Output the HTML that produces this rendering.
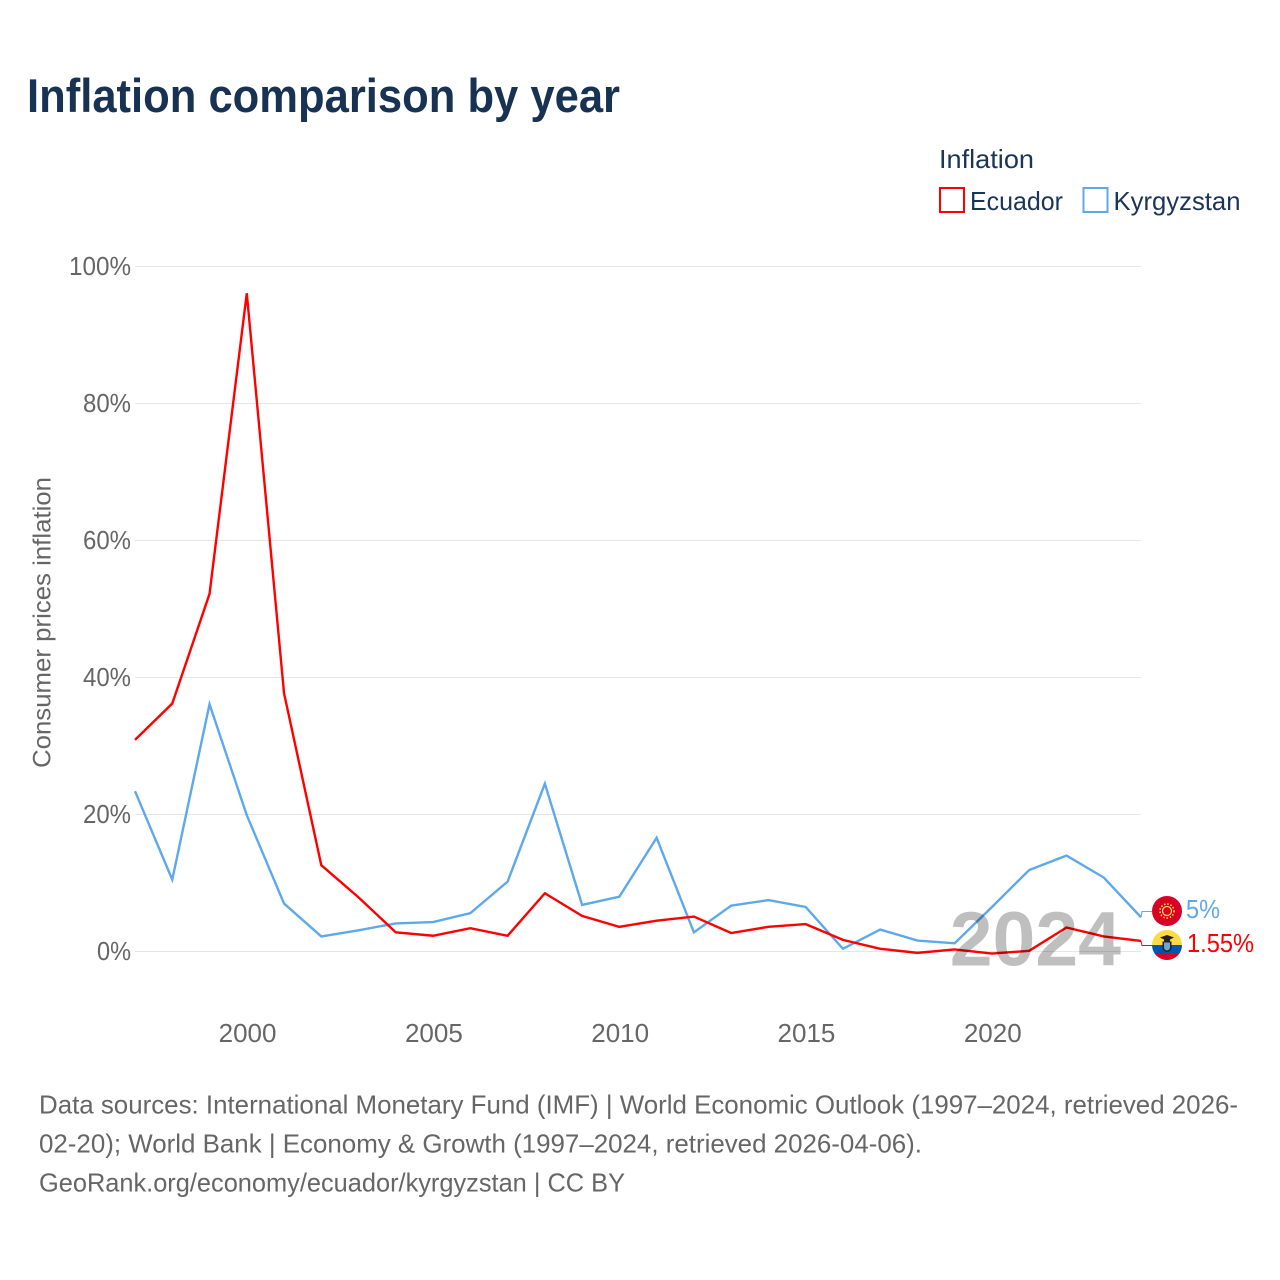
<!DOCTYPE html>
<html lang="en">
<head>
<meta charset="utf-8">
<title>Inflation comparison by year</title>
<style>
html,body{margin:0;padding:0;background:#fff;width:1280px;height:1280px;overflow:hidden}
svg{display:block;font-family:"Liberation Sans",sans-serif}
</style>
</head>
<body>
<svg id="chart" width="1280" height="1280" viewBox="0 0 1280 1280" xmlns="http://www.w3.org/2000/svg">
  <text x="27" y="112" font-size="47" font-weight="700" fill="#183253" textLength="593" lengthAdjust="spacingAndGlyphs">Inflation comparison by year</text>

  <g>
    <text x="939" y="168" font-size="26" fill="#1a3557" textLength="95" lengthAdjust="spacingAndGlyphs">Inflation</text>
    <g>
      <rect x="940" y="188" width="24" height="24" fill="#fff" stroke="#ff0000" stroke-width="2"/>
      <text x="970" y="210" font-size="26" fill="#1a3557" textLength="93" lengthAdjust="spacingAndGlyphs">Ecuador</text>
    </g>
    <g>
      <rect x="1083.500" y="188" width="24" height="24" fill="#fff" stroke="#5ea8ec" stroke-width="2"/>
      <text x="1113.500" y="210" font-size="26" fill="#1a3557" textLength="127" lengthAdjust="spacingAndGlyphs">Kyrgyzstan</text>
    </g>
  </g>

  <g id="grid"></g>
  <g id="yticks"></g>
  <g id="xticks"></g>

  <text transform="translate(50.500,768) rotate(-90)" font-size="25" fill="#666" textLength="291" lengthAdjust="spacingAndGlyphs">Consumer prices inflation</text>

  <g id="series"></g>

  <text x="1121" y="965.500" text-anchor="end" font-size="77" font-weight="700" fill="#000" fill-opacity="0.25">2024</text>

  <g id="flag-kyrgyzstan">
    <circle cx="1167" cy="911" r="15" fill="#d80027"/>
    <circle cx="1167" cy="911" r="4.500" fill="none" stroke="#ffda44" stroke-width="1.300"/>
    <circle cx="1167" cy="911" r="7" fill="none" stroke="#ffda44" stroke-width="1.600" stroke-dasharray="1.500 1.800"/>
  </g>
  <g id="flag-ecuador">
    <clipPath id="ec-clip"><circle cx="1167" cy="945" r="15"/></clipPath>
    <g clip-path="url(#ec-clip)">
      <rect x="1152" y="930" width="30" height="15" fill="#ffda44"/>
      <rect x="1152" y="945" width="30" height="8" fill="#0052b4"/>
      <rect x="1152" y="953" width="30" height="7" fill="#d80027"/>
    </g>
    <path d="M1160 937.500 L1167 935 L1174 937.500 L1170 939.500 L1170 942 L1164 942 L1164 939.500 Z" fill="#222"/>
    <path d="M1162.500 941.500 H1171.500 V947 Q1171.500 951 1167 952 Q1162.500 951 1162.500 947 Z" fill="#222"/>
    <path d="M1164 942.500 H1170 V947 Q1170 950 1167 950.500 Q1164 950 1164 947 Z" fill="#6da5e0"/>
  </g>

  <g id="end-labels">
    <text x="1186" y="918" font-size="26" fill="#5ea8ec" textLength="34" lengthAdjust="spacingAndGlyphs">5%</text>
    <text x="1187" y="952" font-size="26" fill="#ff0000" textLength="67" lengthAdjust="spacingAndGlyphs">1.55%</text>
  </g>

  <g font-size="26" fill="#666">
    <text x="39" y="1113.500" textLength="1199" lengthAdjust="spacingAndGlyphs">Data sources: International Monetary Fund (IMF) | World Economic Outlook (1997–2024, retrieved 2026-</text>
    <text x="39" y="1152.500" textLength="883" lengthAdjust="spacingAndGlyphs">02-20); World Bank | Economy &amp; Growth (1997–2024, retrieved 2026-04-06).</text>
    <text x="39" y="1191.500" textLength="586" lengthAdjust="spacingAndGlyphs">GeoRank.org/economy/ecuador/kyrgyzstan | CC BY</text>
  </g>
</svg>
<script>
const years = [1997,1998,1999,2000,2001,2002,2003,2004,2005,2006,2007,2008,2009,2010,2011,2012,2013,2014,2015,2016,2017,2018,2019,2020,2021,2022,2023,2024];
const ecuadorValues = [30.9,36.2,52.2,96.1,37.7,12.6,7.9,2.8,2.3,3.4,2.3,8.5,5.2,3.6,4.5,5.1,2.7,3.6,4.0,1.7,0.4,-0.2,0.3,-0.3,0.1,3.5,2.2,1.55];
const kyrgyzstanValues = [23.4,10.5,36.1,19.9,7.0,2.2,3.1,4.1,4.3,5.6,10.2,24.5,6.8,8.0,16.6,2.8,6.7,7.5,6.5,0.4,3.2,1.6,1.2,6.5,11.9,14.0,10.8,5.0];
const yTickValues = [0,20,40,60,80,100];
const xTickValues = [2000,2005,2010,2015,2020];

const NS = 'http://www.w3.org/2000/svg';
const xScale = function (year) { return 135 + (year - 1997) * (1141 - 135) / (2024 - 1997); };
const yScale = function (value) { return 951.5 - value * 6.85; };

const gridGroup = document.getElementById('grid');
const yTickGroup = document.getElementById('yticks');
const xTickGroup = document.getElementById('xticks');
const seriesGroup = document.getElementById('series');

yTickValues.forEach(function (tick) {
  const line = document.createElementNS(NS, 'line');
  
  
  line.setAttribute('x1', 135);
  line.setAttribute('x2', 1141);
  line.setAttribute('y1', yScale(tick));
  line.setAttribute('y2', yScale(tick));
  line.setAttribute('stroke', '#e6e6e6');
  line.setAttribute('stroke-width', 1);
  gridGroup.appendChild(line);

  const label = document.createElementNS(NS, 'text');
  
  
  label.setAttribute('x', 131);
  label.setAttribute('y', yScale(tick) + 8.5);
  label.setAttribute('text-anchor', 'end');
  label.setAttribute('font-size', 26);
  label.setAttribute('fill', '#666');
  label.setAttribute('textLength', String(tick).length * 14 + 20);
  label.setAttribute('lengthAdjust', 'spacingAndGlyphs');
  label.textContent = tick + '%';
  yTickGroup.appendChild(label);
});

xTickValues.forEach(function (tick) {
  const label = document.createElementNS(NS, 'text');
  
  
  label.setAttribute('x', xScale(tick) + 0.8);
  label.setAttribute('y', 1042);
  label.setAttribute('text-anchor', 'middle');
  label.setAttribute('font-size', 26);
  label.setAttribute('fill', '#666');
  label.textContent = tick;
  xTickGroup.appendChild(label);
});

function linePoints(values) {
  return values.map(function (value, i) {
    return xScale(years[i]).toFixed(2) + ',' + yScale(value).toFixed(2);
  }).join(' ');
}

const kyrgyzstanLine = document.createElementNS(NS, 'polyline');


kyrgyzstanLine.setAttribute('points', linePoints(kyrgyzstanValues));
kyrgyzstanLine.setAttribute('fill', 'none');
kyrgyzstanLine.setAttribute('stroke', '#5ea8ec');
kyrgyzstanLine.setAttribute('stroke-width', 2.4);
seriesGroup.appendChild(kyrgyzstanLine);

const ecuadorLine = document.createElementNS(NS, 'polyline');


ecuadorLine.setAttribute('points', linePoints(ecuadorValues));
ecuadorLine.setAttribute('fill', 'none');
ecuadorLine.setAttribute('stroke', '#ff0000');
ecuadorLine.setAttribute('stroke-width', 2.4);
seriesGroup.appendChild(ecuadorLine);

const lastYear = years[years.length - 1];

const kyrgyzstanConnector = document.createElementNS(NS, 'polyline');


kyrgyzstanConnector.setAttribute('points', xScale(lastYear) + ',' + yScale(kyrgyzstanValues[kyrgyzstanValues.length - 1]) + ' 1142,911.5 1152,911.5');
kyrgyzstanConnector.setAttribute('fill', 'none');
kyrgyzstanConnector.setAttribute('stroke', '#5ea8ec');
kyrgyzstanConnector.setAttribute('stroke-width', 1);
seriesGroup.appendChild(kyrgyzstanConnector);

const ecuadorConnector = document.createElementNS(NS, 'polyline');


ecuadorConnector.setAttribute('points', xScale(lastYear) + ',' + yScale(ecuadorValues[ecuadorValues.length - 1]) + ' 1142,945.5 1152,945.5');
ecuadorConnector.setAttribute('fill', 'none');
ecuadorConnector.setAttribute('stroke', '#ff0000');
ecuadorConnector.setAttribute('stroke-width', 1);
seriesGroup.appendChild(ecuadorConnector);
</script>
</body>
</html>
